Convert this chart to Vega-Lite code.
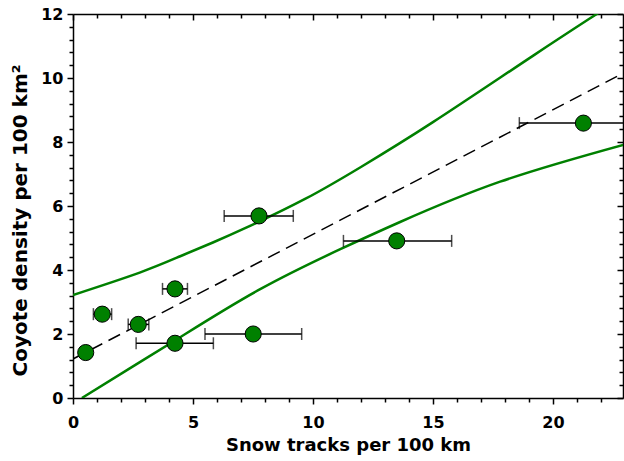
{
  "$schema": "https://vega.github.io/schema/vega-lite/v6.json",
  "autosize": {"type": "none"},
  "width": 550,
  "height": 384,
  "padding": {"left": 73, "top": 14, "right": 1, "bottom": 63},
  "background": "white",
  "config": {
    "view": {"stroke": null},
    "axis": {
      "grid": false,
      "labelFont": "DejaVu Sans",
      "titleFont": "DejaVu Sans",
      "labelFontWeight": "bold",
      "titleFontWeight": "bold",
      "labelFontSize": 16,
      "titleFontSize": 18,
      "labelColor": "black",
      "titleColor": "black",
      "tickColor": "black",
      "domainColor": "black",
      "domainWidth": 1.5,
      "tickWidth": 1.5
    }
  },
  "datasets": {
    "pts": [
      {"x": 0.53, "y": 1.42, "xmin": null, "xmax": null},
      {"x": 1.22, "y": 2.62, "xmin": 0.85, "xmax": 1.61},
      {"x": 2.72, "y": 2.3, "xmin": 2.3, "xmax": 3.16},
      {"x": 4.25, "y": 3.41, "xmin": 3.73, "xmax": 4.77},
      {"x": 4.25, "y": 1.71, "xmin": 2.63, "xmax": 5.85},
      {"x": 7.51, "y": 2.0, "xmin": 5.5, "xmax": 9.53},
      {"x": 7.75, "y": 5.69, "xmin": 6.3, "xmax": 9.18},
      {"x": 13.49, "y": 4.91, "xmin": 11.27, "xmax": 15.78},
      {"x": 21.27, "y": 8.59, "xmin": 18.6, "xmax": 24.0}
    ],
    "band": [
      {"x": 0, "y": 3.22, "curve": "upper"},
      {"x": 2.78, "y": 3.92, "curve": "upper"},
      {"x": 4.47, "y": 4.43, "curve": "upper"},
      {"x": 5.83, "y": 4.86, "curve": "upper"},
      {"x": 7.24, "y": 5.33, "curve": "upper"},
      {"x": 9.67, "y": 6.22, "curve": "upper"},
      {"x": 12.0, "y": 7.22, "curve": "upper"},
      {"x": 15.0, "y": 8.62, "curve": "upper"},
      {"x": 19.18, "y": 10.7, "curve": "upper"},
      {"x": 22.03, "y": 12.1, "curve": "upper"},
      {"x": 22.92, "y": 12.55, "curve": "upper"},
      {"x": 0.37, "y": 0.0, "curve": "lower"},
      {"x": 2.5, "y": 0.99, "curve": "lower"},
      {"x": 4.47, "y": 1.9, "curve": "lower"},
      {"x": 7.8, "y": 3.4, "curve": "lower"},
      {"x": 11.14, "y": 4.65, "curve": "lower"},
      {"x": 13.63, "y": 5.5, "curve": "lower"},
      {"x": 17.8, "y": 6.76, "curve": "lower"},
      {"x": 22.93, "y": 7.91, "curve": "lower"}
    ],
    "fit": [
      {"x": 0, "y": 1.22},
      {"x": 22.93, "y": 10.15}
    ]
  },
  "resolve": {"axis": {"x": "independent", "y": "independent"}},
  "layer": [
    {
      "data": {"name": "band"},
      "transform": [{"filter": "datum.curve == 'upper'"}],
      "mark": {"type": "line", "color": "#008000", "strokeWidth": 2.5, "clip": true, "interpolate": "natural"},
      "encoding": {
        "x": {"field": "x", "type": "quantitative", "scale": {"domain": [0, 22.92], "nice": false, "zero": false},
          "axis": {"orient": "bottom", "values": [0, 5, 10, 15, 20], "tickSize": 6, "labelPadding": 10, "title": "Snow tracks per 100 km", "titlePadding": 6, "labelFlush": false}},
        "y": {"field": "y", "type": "quantitative", "scale": {"domain": [0, 12], "nice": false, "zero": false},
          "axis": {"orient": "left", "values": [0, 2, 4, 6, 8, 10, 12], "tickSize": 6, "labelPadding": 4, "title": "Coyote density per 100 km²", "titleFontSize": 20, "titlePadding": 10, "titleY": 206, "labelFlush": false}}
      }
    },
    {
      "data": {"name": "band"},
      "transform": [{"filter": "datum.curve == 'lower'"}],
      "mark": {"type": "line", "color": "#008000", "strokeWidth": 2.5, "clip": true, "interpolate": "natural"},
      "encoding": {
        "x": {"field": "x", "type": "quantitative",
          "axis": {"orient": "bottom", "values": [1,2,3,4,6,7,8,9,11,12,13,14,16,17,18,19,21,22], "tickSize": 4, "labels": false, "domain": false, "title": null}},
        "y": {"field": "y", "type": "quantitative",
          "axis": {"orient": "left", "values": [0.4,0.8,1.2,1.6,2.4,2.8,3.2,3.6,4.4,4.8,5.2,5.6,6.4,6.8,7.2,7.6,8.4,8.8,9.2,9.6,10.4,10.8,11.2,11.6], "tickSize": 4, "labels": false, "domain": false, "title": null}}
      }
    },
    {
      "data": {"name": "fit"},
      "mark": {"type": "line", "color": "black", "strokeWidth": 1.5, "strokeDash": [13, 7], "clip": true},
      "encoding": {
        "x": {"field": "x", "type": "quantitative",
          "axis": {"orient": "top", "values": [0, 5, 10, 15, 20], "tickSize": -6, "labels": false, "title": null}},
        "y": {"field": "y", "type": "quantitative",
          "axis": {"orient": "right", "values": [0, 2, 4, 6, 8, 10, 12], "tickSize": -6, "labels": false, "title": null}}
      }
    },
    {
      "data": {"name": "pts"},
      "transform": [{"filter": "datum.xmin != null"}],
      "mark": {"type": "rule", "color": "black", "strokeWidth": 1.5, "clip": true},
      "encoding": {
        "x": {"field": "xmin", "type": "quantitative",
          "axis": {"orient": "top", "values": [1,2,3,4,6,7,8,9,11,12,13,14,16,17,18,19,21,22], "tickSize": -4, "labels": false, "domain": false, "title": null}},
        "x2": {"field": "xmax"},
        "y": {"field": "y", "type": "quantitative",
          "axis": {"orient": "right", "values": [0.4,0.8,1.2,1.6,2.4,2.8,3.2,3.6,4.4,4.8,5.2,5.6,6.4,6.8,7.2,7.6,8.4,8.8,9.2,9.6,10.4,10.8,11.2,11.6], "tickSize": -4, "labels": false, "domain": false, "title": null}}
      }
    },
    {
      "data": {"name": "pts"},
      "transform": [{"filter": "datum.xmin != null"}, {"fold": ["xmin", "xmax"], "as": ["end", "xe"]}],
      "mark": {"type": "tick", "orient": "vertical", "color": "black", "size": 12, "thickness": 1.5, "clip": true},
      "encoding": {
        "x": {"field": "xe", "type": "quantitative", "axis": null},
        "y": {"field": "y", "type": "quantitative", "axis": null}
      }
    },
    {
      "data": {"name": "pts"},
      "mark": {"type": "circle", "size": 260, "fill": "#008000", "stroke": "black", "strokeWidth": 1, "opacity": 1, "clip": true},
      "encoding": {
        "x": {"field": "x", "type": "quantitative", "axis": null},
        "y": {"field": "y", "type": "quantitative", "axis": null}
      }
    }
  ]
}
